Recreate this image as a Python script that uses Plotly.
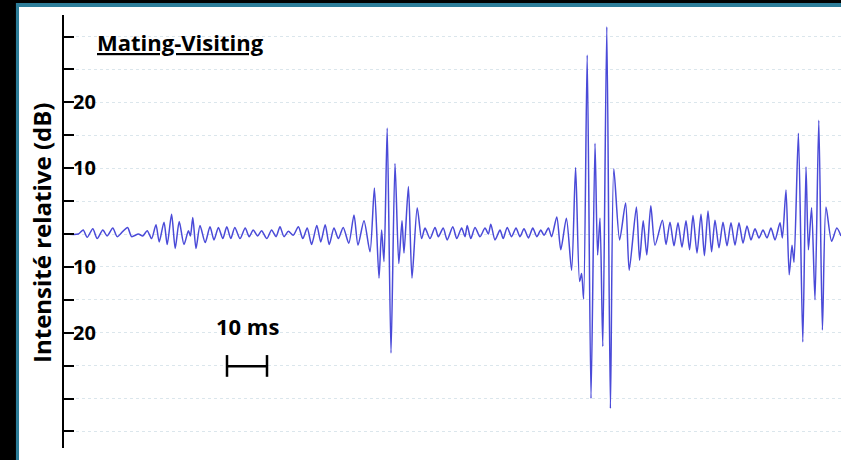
import plotly.graph_objects as go

# ---- data: waveform (time in ms, relative intensity in dB) ----
time_ms = [
    0, 3.6, 4.8, 5.8, 7.2, 8.3, 9.7, 10.8, 12.2, 13.3, 14.7, 15.9, 16.9, 18.6, 19.7,
    20.8, 21.9, 23.0, 23.8, 25.0, 25.8, 26.9, 27.8, 28.8, 30.0, 31.1, 31.6, 32.2, 33.0,
    34.0, 35.3, 36.5, 37.5, 38.6, 39.7, 40.7, 41.7, 42.7, 44.0, 45.3, 46.3, 47.3, 48.4,
    49.4, 50.7, 51.9, 53.0, 54.0, 55.0, 56.1, 57.3, 58.6, 59.7, 60.8, 61.9, 63.2, 64.2,
    65.3, 66.3, 67.5, 68.6, 69.8, 71.2,
    72.5, 73.5, 75.0, 76.5, 77.6, 78.75, 79.4, 80.0, 80.8, 81.75, 82.75, 83.7, 84.5,
    85.0, 86.1, 87.0, 88.3, 89.4, 90.25,
    91.5, 92.75, 93.6, 94.8, 95.8, 97.2, 98.2, 99.4, 100.25, 100.8, 101.7, 102.75,
    104.0, 105.25, 106.1, 106.7, 107.75, 109.0, 109.8, 110.8, 111.9, 113.0, 114.0,
    115.0, 116.1, 117.2, 118.2, 119.2, 120.0, 121.1, 121.9,
    123.2, 124.2, 125.6, 126.9, 127.9, 128.9, 129.4, 129.9, 130.8, 131.75, 132.75,
    133.4, 134.0, 134.7, 135.7, 136.6, 137.45, 138.9, 140.4, 141.3, 143.1, 143.9,
    144.8, 145.7, 146.7, 147.75,
    149.6, 150.5, 151.5, 152.5, 153.5, 154.5, 155.5, 156.4, 157.25, 158.25, 159.25,
    160.1, 161.0, 161.9, 162.75, 163.75, 164.75, 165.75, 166.75, 167.75, 168.75,
    169.75, 170.75, 171.75, 172.75, 173.75, 174.75, 175.75, 176.75, 177.75,
    179.0, 179.6, 180.5, 181.3, 182.0, 182.5, 183.6, 184.7, 185.5, 186.1, 186.9,
    187.75, 188.7, 189.6, 190.5, 191.9, 193.2, 194.25,
]
intensity_db = [
    0, 0, 0.6, -0.5, 0.8, -0.7, 0.6, -0.3, 0.9, -0.4, 0.4, 1.0, -0.4, 0.0, -0.3,
    0.5, -0.7, 1.4, -1.2, 1.8, -1.6, 3.0, -2.2, 1.9, -1.6, 0.5, -0.3, 2.5, -2.2,
    1.3, -1.3, 1.1, -0.9, 1.0, -0.7, 1.1, -0.7, 1.0, -0.7, 0.9, -0.4, 0.6, -0.3,
    0.5, -0.7, 0.6, -0.4, 1.1, -0.4, 0.4, -0.2, 1.1, -0.7, 0.9, -1.6, 1.3, -1.2,
    1.4, -1.6, 0.9, -0.7, 1.0, -1.4,
    2.9, -1.7, 2.0, -2.7, 7.0, -6.7, 0.6, -4.2, 16.1, -18.1, 10.7, -4.5, 2.0,
    -2.9, 7.2, -6.7, 4.0, -0.7, 0.9,
    -0.7, 1.0, -0.4, 0.9, -0.9, 1.1, -0.7, 0.9, -0.4, 1.3, -0.7, 1.0,
    -0.4, 0.9, 0.0, 1.5, -0.9, 0.6, -0.7, 1.0, -0.4, 0.9, -0.4,
    0.8, -0.6, 0.9, -0.4, 0.6, -0.2, 0.9, -0.4,
    2.6, -2.4, 2.4, -5.5, 10.1, -7.2, -6.0, -9.9, 27.2, -25.0, 13.8,
    -3.2, 2.4, -17.1, 31.5, -26.5, 9.9, -0.9, 4.7, -5.5, 4.1, -4.0,
    2.0, -3.2, 4.3, -1.7,
    2.1, -1.6, 1.8, -1.8, 1.7, -2.0, 2.0, -2.4, 2.8, -2.9, 3.0,
    -3.3, 3.5, -2.7, 2.1, -2.1, 1.8, -1.8, 1.7, -1.7, 1.7,
    -1.4, 1.2, -0.9, 0.8, -0.6, 0.6, -0.6, 0.9, -0.9,
    1.7, -0.6, 6.7, -6.2, -1.7, -4.3, 15.3, -16.4, 10.2, -2.4, 4.0,
    -10.0, 17.3, -14.6, 4.1, -1.1, 0.9, -0.3,
]

tick_values = [-30, -25, -20, -15, -10, -5, 0, 5, 10, 15, 20, 25, 30]
tick_labels = ["", "", "", "20", "", "10", "", "", "10", "", "20", "", ""]

title_text = "Mating-Visiting"
y_title = "Intensité relative (dB)"
scale_label = "10 ms"
scale_start_ms = 40.75
scale_length_ms = 10
scale_level_db = -20.1

W, H = 841, 460
FONT = "Open Sans"

fig = go.Figure()
fig.add_trace(go.Scatter(
    x=time_ms, y=intensity_db, mode="lines",
    line=dict(color="#4a4ad8", width=1.5, shape="spline", smoothing=0.7),
    hoverinfo="skip", showlegend=False,
))

# scale bar (10 ms)
sx0, sx1 = scale_start_ms, scale_start_ms + scale_length_ms
bar = dict(color="black", width=2.5)
fig.add_shape(type="line", x0=sx0, x1=sx1, y0=scale_level_db, y1=scale_level_db, line=bar)
fig.add_shape(type="line", x0=sx0, x1=sx0, y0=scale_level_db + 1.7, y1=scale_level_db - 1.6, line=bar)
fig.add_shape(type="line", x0=sx1, x1=sx1, y0=scale_level_db + 1.7, y1=scale_level_db - 1.6, line=bar)
fig.add_annotation(x=(sx0 + sx1) / 2, y=-14.0, text=f"<b>{scale_label}</b>", showarrow=False,
                   font=dict(family=FONT, size=22, color="black"), xanchor="center", yanchor="middle")

# dark frame around the white panel (paper fractions)
frame_rects = [
    (0.0, 0.0190, 0.0, 1.0, "#000000"),
    (0.0190, 0.0226, 0.0, 0.9935, "#2d7d99"),
    (0.0, 1.0, 0.9935, 1.0, "#000000"),
    (0.0190, 1.0, 0.9848, 0.9935, "#2d7d99"),
]
for (a, b, c, d, col) in frame_rects:
    fig.add_shape(type="rect", xref="paper", yref="paper", x0=a, x1=b, y0=c, y1=d,
                  fillcolor=col, line=dict(width=0), layer="above")

fig.add_annotation(xref="paper", yref="paper", x=95 / W, y=1 - 42 / H, text=f"<b><u>{title_text}</u></b>",
                   showarrow=False, xanchor="left", yanchor="middle",
                   font=dict(family=FONT, size=22, color="black"))
fig.add_annotation(xref="paper", yref="paper", x=42 / W, y=1 - 233 / H, text=f"<b>{y_title}</b>",
                   showarrow=False, textangle=-90, xanchor="center", yanchor="middle",
                   font=dict(family=FONT, size=24, color="black"))

fig.update_layout(
    width=W, height=H,
    margin=dict(l=0, r=0, t=0, b=0),
    paper_bgcolor="white", plot_bgcolor="white",
    xaxis=dict(domain=[64 / W, 1], range=[0, 194.25], visible=False, fixedrange=True),
    yaxis=dict(
        domain=[1 - 448 / H, 1 - 15 / H], range=[-32.52, 33.28],
        tickvals=tick_values, ticktext=tick_labels,
        ticks="inside", ticklen=10, tickwidth=2, tickcolor="black",
        ticklabelposition="inside",
        tickfont=dict(family=FONT, size=20, color="black", weight="bold"),
        showline=True, linecolor="black", linewidth=2,
        showgrid=True, gridcolor="#dbe6ec", griddash="dot", gridwidth=1,
        zeroline=False, fixedrange=True,
    ),
)

fig.write_html("out.html", config={"displayModeBar": False})
